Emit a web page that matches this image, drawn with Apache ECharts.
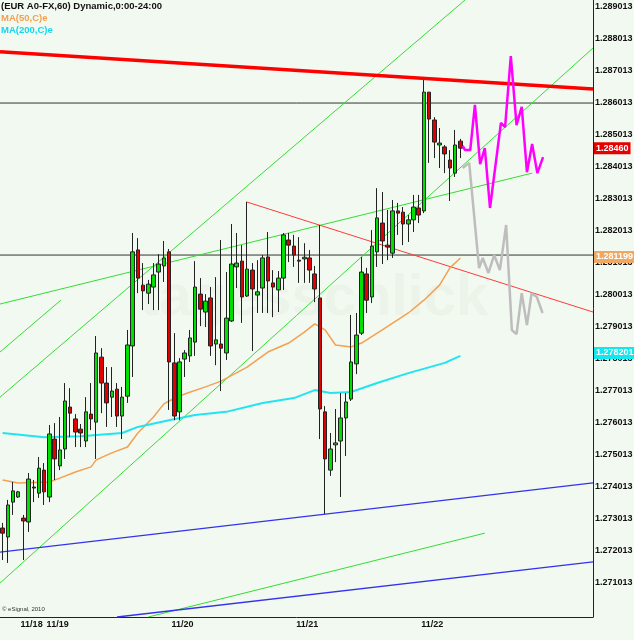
<!DOCTYPE html>
<html>
<head>
<meta charset="utf-8">
<script src="https://cdn.jsdelivr.net/npm/echarts@6/dist/echarts.min.js"></script>
<style>
html,body{margin:0;padding:0;background:#f2f9f0;}
#main{width:634px;height:640px;}
</style>
</head>
<body>
<div id="main"></div>
<script>
// hourly candles, [open, close, low, high]
var ohlc = [
  [1.27273,1.27257,1.27173,1.27289],[1.27245,1.27345,1.27164,1.27361],[1.27354,1.27389,1.27314,1.27417],
  [1.27370,1.27386,1.27367,1.27389],[1.27304,1.27295,1.27173,1.27314],[1.27292,1.27426,1.27261,1.27445],
  [1.27401,1.27398,1.27354,1.27423],[1.27382,1.27460,1.27367,1.27495],[1.27454,1.27386,1.27345,1.27476],
  [1.27370,1.27567,1.27354,1.27595],[1.27551,1.27489,1.27423,1.27601],[1.27467,1.27517,1.27454,1.27620],
  [1.27520,1.27670,1.27489,1.27726],[1.27651,1.27632,1.27557,1.27710],[1.27614,1.27573,1.27526,1.27629],
  [1.27582,1.27570,1.27526,1.27598],[1.27545,1.27636,1.27526,1.27682],[1.27629,1.27614,1.27579,1.27726],
  [1.27604,1.27820,1.27489,1.27873],[1.27807,1.27726,1.27632,1.27835],[1.27726,1.27664,1.27589,1.27776],
  [1.27682,1.27701,1.27620,1.27776],[1.27707,1.27623,1.27589,1.27726],[1.27623,1.27682,1.27551,1.27714],
  [1.27685,1.27845,1.27664,1.27892],[1.27842,1.28136,1.27745,1.28195],[1.28142,1.28054,1.28007,1.28179],
  [1.28032,1.28014,1.27954,1.28101],[1.28007,1.28035,1.27973,1.28048],[1.28026,1.28064,1.27954,1.28101],
  [1.28073,1.28098,1.27954,1.28129],[1.28092,1.28117,1.28042,1.28170],[1.28136,1.27792,1.27642,1.28145],
  [1.27789,1.27623,1.27610,1.27882],[1.27636,1.27792,1.27610,1.27804],[1.27801,1.27820,1.27745,1.27829],
  [1.27811,1.27867,1.27792,1.27892],[1.27854,1.28026,1.27811,1.28107],[1.28004,1.27957,1.27904,1.28054],
  [1.27948,1.27982,1.27901,1.28004],[1.27992,1.27842,1.27811,1.28026],[1.27848,1.27861,1.27782,1.28057],
  [1.27848,1.27835,1.27701,1.28173],[1.27820,1.27929,1.27798,1.28073],[1.27920,1.28098,1.27917,1.28223],
  [1.28089,1.28101,1.28023,1.28195],[1.28107,1.27995,1.27914,1.28157],[1.27998,1.28082,1.27995,1.28292],
  [1.28079,1.28020,1.27826,1.28101],[1.28001,1.28011,1.27945,1.28110],[1.28023,1.28117,1.27945,1.28126],
  [1.28120,1.28045,1.27945,1.28198],[1.28039,1.28026,1.27932,1.28079],[1.28017,1.28054,1.27948,1.28076],
  [1.28054,1.28189,1.28017,1.28195],[1.28173,1.28157,1.28104,1.28195],[1.28154,1.28126,1.28089,1.28189],
  [1.28110,1.28107,1.28039,1.28182],[1.28114,1.28119,1.28039,1.28163],[1.28117,1.28079,1.28039,1.28142],
  [1.28067,1.28020,1.27979,1.28092],[1.27992,1.27645,1.27551,1.28220],[1.27636,1.27489,1.27317,1.27654],
  [1.27454,1.27520,1.27436,1.27570],[1.27533,1.27539,1.27479,1.27645],[1.27545,1.27617,1.27370,1.27695],
  [1.27617,1.27667,1.27498,1.27695],[1.27676,1.27792,1.27670,1.27939],[1.27786,1.27876,1.27754,1.27945],
  [1.27882,1.28073,1.27876,1.28120],[1.28067,1.27985,1.27945,1.28086],[1.27995,1.28154,1.27976,1.28204],
  [1.28136,1.28242,1.28089,1.28335],[1.28226,1.28170,1.28098,1.28323],[1.28157,1.28151,1.28110,1.28267],
  [1.28132,1.28264,1.28117,1.28298],[1.28264,1.28257,1.28189,1.28289],[1.28260,1.28223,1.28157,1.28276],
  [1.28223,1.28236,1.28167,1.28251],[1.28236,1.28276,1.28198,1.28314],[1.28273,1.28251,1.28226,1.28314],
  [1.28264,1.28635,1.28257,1.28676],[1.28635,1.28551,1.28414,1.28635],[1.28548,1.28479,1.28429,1.28557],
  [1.28470,1.28476,1.28398,1.28523],[1.28464,1.28442,1.28382,1.28470],[1.28423,1.28398,1.28295,1.28454],
  [1.28382,1.28470,1.28370,1.28517],[1.28482,1.28460,1.28429,1.28489]
];
var slotCount = 114;
var dayStarts = [5, 10, 34, 58, 82];
var dayLabels = ['11/18', '11/19', '11/20', '11/21', '11/22'];
var priceTicks = [1.271013,1.272013,1.273013,1.274013,1.275013,1.276013,1.277013,1.278013,1.279013,
  1.280013,1.281013,1.282013,1.283013,1.284013,1.285013,1.286013,1.287013,1.288013,1.289013];

// moving averages read as [candle index, value]
var ma50 = [[0,1.27423],[3,1.27414],[9,1.27417],[11,1.27429],[14,1.27448],[17,1.27464],[18,1.27486],
  [21,1.27508],[24,1.27526],[26,1.27570],[29,1.27620],[31,1.27661],[32,1.27670],[35,1.27692],[39,1.27714],
  [42,1.27732],[47,1.27776],[51,1.27823],[55,1.27851],[58,1.27885],[60,1.27911],[62,1.27892],[64,1.27845],
  [67,1.27839],[69,1.27851],[73,1.27892],[78,1.27945],[81,1.27985],[84,1.28032],[86,1.28086],[88,1.28117]];
var ma200 = [[0,1.27570],[8,1.27557],[15,1.27560],[23,1.27570],[26,1.27589],[32,1.27610],[37,1.27626],
  [43,1.27636],[50,1.27664],[56,1.27679],[60,1.27704],[63,1.27695],[67,1.27698],[72,1.27726],[78,1.27757],
  [85,1.27789],[88,1.27811]];

// projections
var pathUp = [[88.45,1.28467],[88.9,1.28454],[89.9,1.28454],[90.8,1.28595],[91.8,1.28410],[92.7,1.28460],
  [93.7,1.28273],[95.8,1.28539],[96.6,1.28526],[97.7,1.28748],[98.8,1.28532],[99.8,1.28589],[100.8,1.28385],
  [101.8,1.28473],[102.8,1.28382],[103.9,1.28432]];
var pathDown = [[88.45,1.28398],[89.7,1.28414],[91.6,1.28085],[92.3,1.28117],[93.4,1.28070],[94.5,1.28126],
  [95.6,1.28079],[96.8,1.28220],[97.9,1.27892],[98.8,1.27879],[99.8,1.28007],[100.8,1.27907],[101.7,1.28007],
  [102.7,1.27995],[103.8,1.27945]];

// trend lines [[x0,y0],[x1,y1]]
var redMain = [[-0.5,1.28761],[113.5,1.28645]];
var redThin = [[46.9,1.28292],[113.5,1.27948]];
var greenLines = [
  [[-0.5,1.27682],[88.9,1.28923]],
  [[-0.5,1.27823],[11.2,1.27985]],
  [[-0.5,1.27101],[113.5,1.28773]],
  [[-0.5,1.27973],[101.8,1.28382]],
  [[28.0,1.26995],[92.7,1.27257]]
];
var blueLines = [
  [[-0.5,1.27198],[113.5,1.27414]],
  [[22.0,1.26995],[113.5,1.27167]]
];
var levels = [1.28601, 1.28126];
var lastPrice = 1.2846, lastMa50 = 1.281199, lastMa200 = 1.278201;

var cats = [];
for (var i = 0; i < slotCount; i++) {
  var k = dayStarts.indexOf(i);
  cats.push(k >= 0 ? dayLabels[k] : '');
}

var yMin = 1.26995, yMax = 1.28923;
var labelFont = {fontFamily: 'Liberation Sans', fontSize: 9, fontWeight: 'bold'};

function tagAxis(v, bg, fg) {
  return {
    type: 'value', min: yMin, max: yMax, position: 'right', offset: 0,
    axisLine: {show: false, onZero: false}, axisTick: {show: false}, splitLine: {show: false},
    axisLabel: Object.assign({
      customValues: [v], margin: 1, color: fg, backgroundColor: bg, padding: [2, 2, 1, 2],
      formatter: function () { return String(v); }
    }, labelFont)
  };
}

function seg(pts, color, width, z) {
  return {type: 'line', xAxisIndex: 1, data: pts, symbol: 'none', silent: true, z: z || 3,
    lineStyle: {color: color, width: width}};
}

var series = [];
series.push({
  type: 'candlestick', xAxisIndex: 0, yAxisIndex: 0, data: ohlc, barWidth: 4, z: 5,
  itemStyle: {color: '#00e000', color0: '#e00000', borderColor: '#222', borderColor0: '#222', borderWidth: 1}
});
levels.forEach(function (v) { series.push(seg([[-0.5, v], [113.5, v]], '#333', 1, 2)); });
greenLines.forEach(function (l) { series.push(seg(l, '#33dd33', 1)); });
blueLines.forEach(function (l) { series.push(seg(l, '#3333ee', 1.3)); });
series.push(seg(redThin, '#ff3b3b', 1));
series.push(seg(redMain, '#ff0000', 3.5, 6));
series.push(seg(ma50, '#f4a050', 1.5, 4));
series.push(seg(ma200, '#22e4f0', 2, 4));
series.push(seg(pathDown, '#bdbdbd', 2.5, 6));
series.push(seg(pathUp, '#ff00ff', 2.5, 7));

var chart = echarts.init(document.getElementById('main'));
chart.setOption({
  animation: false,
  backgroundColor: '#f2f9f0',
  grid: {left: 0, top: 0, width: 593, height: 617, outerBoundsMode: 'none', containLabel: false},
  xAxis: [{
    type: 'category', data: cats, boundaryGap: true,
    axisLine: {onZero: false, lineStyle: {color: '#222'}},
    axisTick: {interval: function (idx, v) { return v !== ''; }, length: 3, lineStyle: {color: '#222'}},
    axisLabel: Object.assign({interval: 0, align: 'left', color: '#111', margin: 3, padding: [0, 0, 0, -8]}, labelFont),
    splitLine: {show: false}
  }, {
    type: 'value', min: -0.5, max: 113.5, show: false
  }],
  yAxis: [{
    type: 'value', min: yMin, max: yMax, position: 'right',
    axisLine: {show: true, onZero: false, lineStyle: {color: '#222'}}, axisTick: {show: false}, splitLine: {show: false},
    axisLabel: Object.assign({customValues: priceTicks, margin: 2, color: '#111',
      formatter: function (v) { return v.toFixed(6); }}, labelFont)
  },
    tagAxis(lastPrice.toFixed(5), '#e80000', '#fff'),
    tagAxis(lastMa50, '#f0a860', '#fff'),
    tagAxis(lastMa200, '#10e8f0', '#fff')
  ],
  graphic: [
    {type: 'text', left: 140, top: 270, z: 1, style: {text: 'tagesschlick', fill: 'rgba(180,200,180,0.09)',
      font: 'bold 58px "Liberation Sans"'}},
    {type: 'text', left: 1, top: 1, style: {text: '(EUR A0-FX,60) Dynamic,0:00-24:00', fill: '#111',
      font: 'bold 9.5px "Liberation Sans"'}},
    {type: 'text', left: 1, top: 13, style: {text: 'MA(50,C)e', fill: '#f4a050', font: 'bold 9.5px "Liberation Sans"'}},
    {type: 'text', left: 1, top: 25, style: {text: 'MA(200,C)e', fill: '#10d8f0', font: 'bold 9.5px "Liberation Sans"'}},
    {type: 'text', left: 2, top: 606, style: {text: '\u00a9 eSignal, 2010', fill: '#333', font: '6px "Liberation Sans"'}}
  ],
  series: series
});
</script>
</body>
</html>
